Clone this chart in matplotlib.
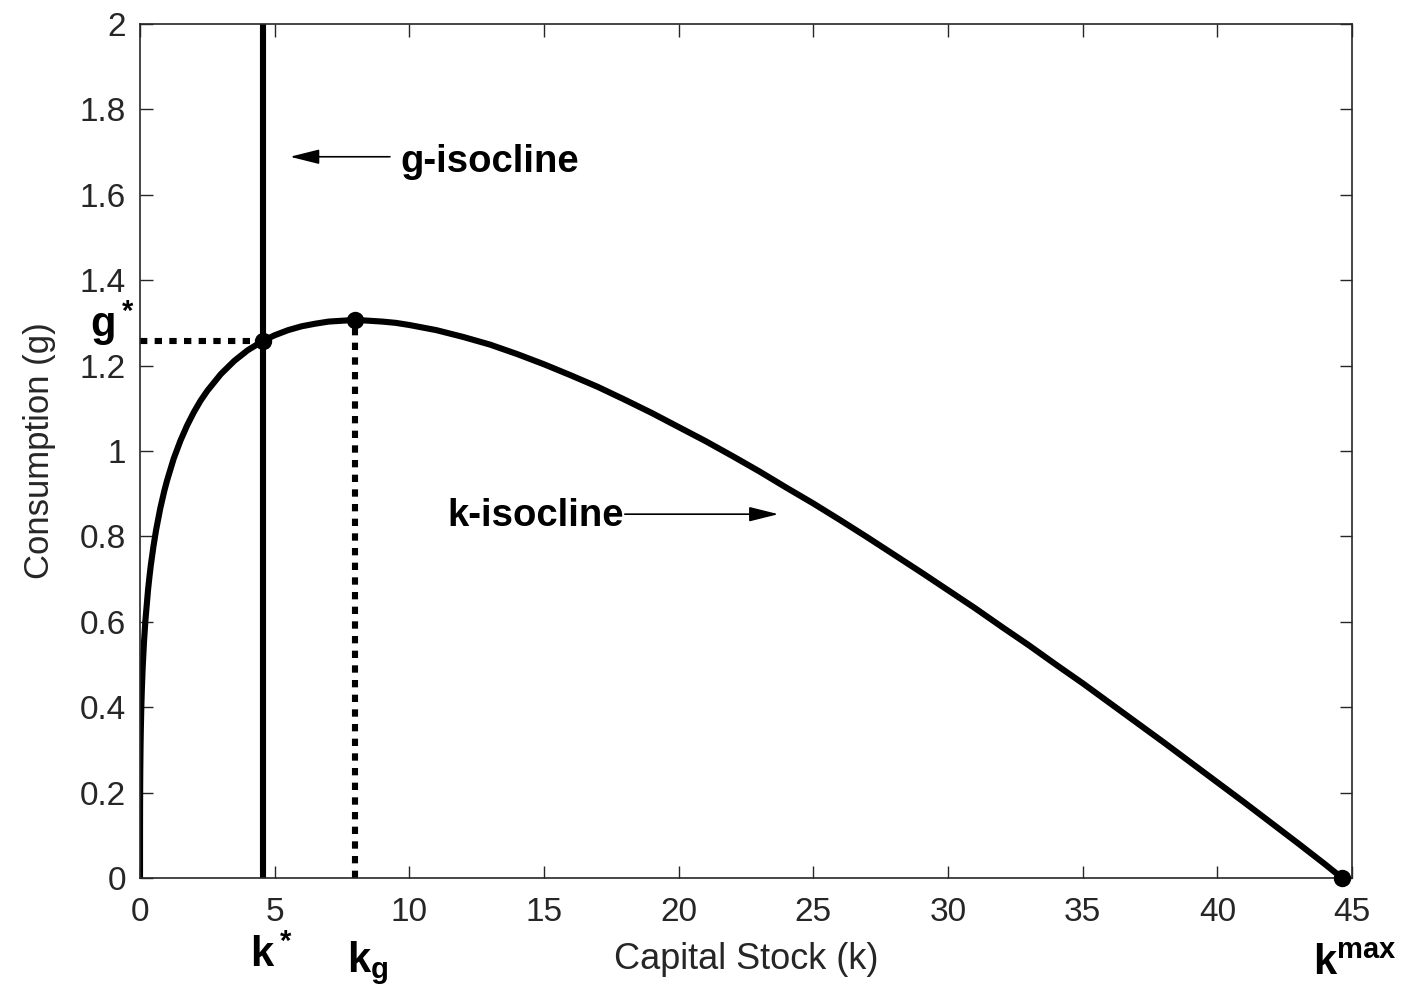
import matplotlib
matplotlib.use("Agg")
import matplotlib.pyplot as plt

plt.rcParams['font.family'] = ['Liberation Sans', 'DejaVu Sans']
plt.rcParams['mathtext.fontset'] = 'custom'
plt.rcParams['mathtext.rm'] = 'Liberation Sans'
plt.rcParams['mathtext.bf'] = 'Liberation Sans:bold'

# k-isocline
k_vals = [0, 0.0005, 0.001, 0.002, 0.003, 0.005, 0.01, 0.02, 0.03, 0.05, 0.07, 0.1,
          0.15, 0.2, 0.3, 0.35, 0.4, 0.5, 0.6, 0.75, 0.9, 1, 1.25, 1.5, 1.75, 2,
          2.25, 2.5, 3, 3.5, 4, 4.57, 5, 5.5, 6, 6.5, 7, 7.5, 8, 8.5, 9, 9.5,
          10, 11, 12, 13, 14, 15, 16, 17, 18, 19, 20, 21, 22, 23, 24, 25, 26,
          27, 28, 29, 30, 31, 32, 33, 34, 35, 36, 37, 38, 39, 40, 41, 42, 43,
          44, 44.63]
g_vals = [0, 0.102, 0.126, 0.155, 0.175, 0.204, 0.251, 0.309, 0.347, 0.404, 0.445, 0.494,
          0.555, 0.603, 0.676, 0.705, 0.732, 0.777, 0.816, 0.865, 0.906, 0.93, 0.982, 1.024, 1.060, 1.091,
          1.118, 1.141, 1.180, 1.211, 1.236, 1.258, 1.271, 1.283, 1.292, 1.298, 1.303, 1.305, 1.307, 1.305, 1.303, 1.300,
          1.295, 1.283, 1.267, 1.249, 1.227, 1.203, 1.177, 1.150, 1.120, 1.089, 1.056, 1.023, 0.988, 0.952, 0.914, 0.877, 0.838,
          0.798, 0.757, 0.716, 0.674, 0.632, 0.588, 0.545, 0.500, 0.456, 0.410, 0.364, 0.318, 0.271, 0.224, 0.177, 0.129, 0.081,
          0.032, 0.0]

k_star, g_star = 4.57, 1.258
k_g, g_max = 8.0, 1.307
k_max = 44.63

x_ticks = [0, 5, 10, 15, 20, 25, 30, 35, 40, 45]
y_ticks = [0, 0.2, 0.4, 0.6, 0.8, 1, 1.2, 1.4, 1.6, 1.8, 2]
y_labels = ['0', '0.2', '0.4', '0.6', '0.8', '1', '1.2', '1.4', '1.6', '1.8', '2']

fig = plt.figure(figsize=(14.1, 9.94), dpi=100)
ax = fig.add_axes([0.0993, 0.1167, 0.8596, 0.8592])

gray = '#262626'
ax.plot(k_vals, g_vals, color='black', lw=4.4, solid_capstyle='butt', solid_joinstyle='round')
ax.plot([k_star, k_star], [0, 2], color='black', lw=4.4)
ax.plot([0, k_star], [g_star, g_star], color='black', lw=4.4, ls=(0, (1.2, 1.2)))
ax.plot([k_g, k_g], [0, g_max], color='black', lw=4.4, ls=(0, (1.2, 1.2)))
ax.plot([k_star, k_g, k_max], [g_star, g_max, 0], 'o', color='black', ms=11.5, clip_on=False, zorder=5)

ax.set_xlim(0, 45)
ax.set_ylim(0, 2)
ax.set_xticks(x_ticks)
ax.set_xticklabels([str(t) for t in x_ticks])
ax.set_yticks(y_ticks)
ax.set_yticklabels(y_labels)
ax.tick_params(direction='in', length=9, width=1, colors=gray, labelsize=24,
               top=True, right=True)
ax.tick_params(axis='x', pad=14)
ax.tick_params(axis='y', pad=10)
for s in ax.spines.values():
    s.set_color(gray)
    s.set_linewidth(1.2)

ax.set_xlabel('Capital Stock (k)', fontsize=26, color=gray, labelpad=10)
ax.set_ylabel('Consumption (g)', fontsize=25, color=gray, labelpad=17)

# annotations
arrow = dict(arrowstyle='-|>,head_length=1.8,head_width=0.45', color='black', lw=1.2,
             shrinkA=0, shrinkB=0)
ax.annotate('', xy=(5.57, 1.689), xytext=(9.28, 1.689), arrowprops=arrow)
ax.text(9.65, 1.677, 'g-isocline', fontsize=27.5, fontweight='bold', va='center', ha='left')
ax.annotate('', xy=(23.7, 0.852), xytext=(18.0, 0.852), arrowprops=arrow)
ax.text(11.4, 0.848, 'k-isocline', fontsize=27.5, fontweight='bold', va='center', ha='left')

ax.text(-0.18, g_star + 0.008, r'$\mathbf{g^*}$', fontsize=30, ha='right', va='baseline', clip_on=False)
ax.text(4.1, -0.208, r'$\mathbf{k^*}$', fontsize=30, ha='left', va='baseline', clip_on=False)
ax.text(7.69, -0.22, r'$\mathbf{k_g}$', fontsize=30, ha='left', va='baseline', clip_on=False)
ax.text(43.55, -0.227, r'$\mathbf{k^{max}}$', fontsize=30, ha='left', va='baseline', clip_on=False)

fig.savefig('out.png', dpi=100)
